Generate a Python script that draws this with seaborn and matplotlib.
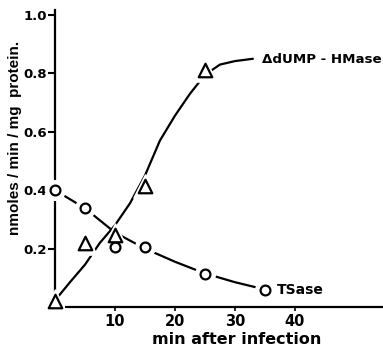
import matplotlib
matplotlib.use("Agg")
import matplotlib.pyplot as plt
import seaborn as sns
import pandas as pd

# measured points
minutes = [0, 5, 10, 15, 25]
dump_hmase = [0.02, 0.22, 0.245, 0.415, 0.81]
ts_minutes = [0, 5, 10, 15, 25, 35]
tsase = [0.40, 0.338, 0.205, 0.205, 0.113, 0.058]

# hand-drawn smooth curves
dump_curve_x = [0.3, 2.5, 5, 7.5, 10, 12.5, 15, 17.5, 20, 22.5, 25, 27.5, 30, 33]
dump_curve_y = [0.03, 0.085, 0.145, 0.22, 0.28, 0.355, 0.45, 0.57, 0.655, 0.73, 0.795, 0.83, 0.842, 0.85]
ts_curve_x = [0, 5, 10, 15, 20, 25, 30, 35]
ts_curve_y = [0.40, 0.338, 0.255, 0.20, 0.155, 0.115, 0.085, 0.06]

yticks = [0.2, 0.4, 0.6, 0.8, 1.0]
xticks = [10, 20, 30, 40]

sns.set_style("ticks")
plt.rcParams["font.family"] = ["DejaVu Sans"]
for k in ["text.color", "axes.labelcolor", "xtick.color", "ytick.color", "axes.edgecolor"]:
    plt.rcParams[k] = "black"

lib = ["Liberation Sans", "DejaVu Sans"]

fig = plt.figure(figsize=(3.83, 3.47), dpi=100)
ax = fig.add_axes([55 / 383, 40 / 347, 328 / 383, 297 / 347])

curves = pd.DataFrame({"x": dump_curve_x, "y": dump_curve_y})
sns.lineplot(data=curves, x="x", y="y", color="black", lw=1.6, ax=ax, sort=False)
curves2 = pd.DataFrame({"x": ts_curve_x, "y": ts_curve_y})
sns.lineplot(data=curves2, x="x", y="y", color="black", lw=1.6, ax=ax, sort=False)

# white halo so the lines stop short of the markers
ax.scatter(ts_minutes, tsase, s=200, color="white", zorder=3, clip_on=False)
ax.scatter(minutes, dump_hmase, s=280, color="white", marker="^", zorder=3, clip_on=False)

sns.scatterplot(x=ts_minutes, y=tsase, marker="o", s=50, facecolor="white",
                edgecolor="black", linewidth=1.6, ax=ax, zorder=4, clip_on=False)
sns.scatterplot(x=minutes, y=dump_hmase, marker="^", s=95, facecolor="white",
                edgecolor="black", linewidth=1.6, ax=ax, zorder=4, clip_on=False)

ax.text(34.5, 0.846, "\u0394dUMP - HMase", fontsize=9.6, fontweight="bold",
        va="center", ha="left")
ax.text(37.0, 0.058, "TSase", fontsize=10, fontweight="bold",
        va="center", ha="left")

ax.set_xlim(0, 54.7)
ax.set_ylim(0, 1.017)
ax.set_xticks(xticks)
ax.set_yticks(yticks)
ax.set_xticklabels([str(t) for t in xticks], fontsize=10.5, fontweight="bold")
ax.set_yticklabels([f"{t:.1f}" for t in yticks], fontsize=9.5, fontweight="bold")
ax.tick_params(axis="y", direction="out", length=5, width=1.5, pad=1)
ax.tick_params(axis="x", direction="out", length=3, width=1.2, pad=2)

sns.despine(ax=ax)
for s in ["left", "bottom"]:
    ax.spines[s].set_linewidth(1.6)
ax.spines["left"].set_bounds(0.045, 1.017)
ax.spines["bottom"].set_bounds(1.8, 54.7)

ax.set_xlabel("min after infection", fontsize=11.5, fontweight="bold", labelpad=0)
ax.xaxis.set_label_coords(0.555, -0.083)
ax.set_ylabel("nmoles / min / mg  protein.", fontsize=11, fontweight="bold",
              family=lib)
ax.yaxis.set_label_coords(-0.1, 0.57)

fig.savefig("out.png", dpi=100)
